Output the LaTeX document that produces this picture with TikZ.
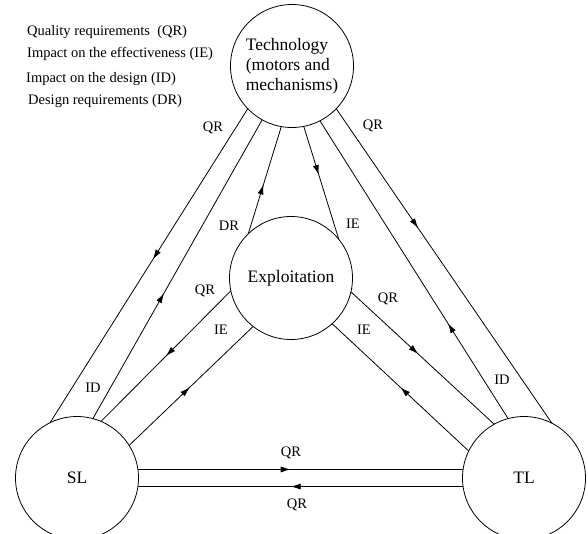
\documentclass[tikz,border=0pt]{standalone}
\usepackage{fontspec}
\setmainfont{Liberation Serif}
\usetikzlibrary{arrows.meta, decorations.markings}

\begin{document}
\begin{tikzpicture}[x=1pt, y=-1pt,
    block/.style={draw, circle, line width=0.8pt, minimum size=123pt, inner sep=0pt, outer sep=0pt,
      font=\fontsize{17.5}{20}\selectfont},
    link/.style={line width=0.8pt},
    lbl/.style={inner sep=0pt, font=\fontsize{14.5}{17}\selectfont},
    arrowat/.style={postaction={decorate},
      decoration={markings, mark=at position #1 with {\arrow{Latex[length=10pt,width=6pt]}}}}]
  \useasboundingbox (0,0) rectangle (588,533);

  % legend
  \node[lbl, anchor=west] (leg1) at (27,32) {Quality requirements~ (QR)};
  \node[lbl, anchor=west] (leg2) at (27,54) {Impact on the effectiveness (IE)};
  \node[lbl, anchor=west] (leg3) at (26,79) {Impact on the design (ID)};
  \node[lbl, anchor=west] (leg4) at (28,101) {Design requirements (DR)};

  % circles
  \node[block, align=left] (tech) at (292,66) {Technology\\(motors and\\mechanisms)};
  \node[block] (expl) at (291,278) {Exploitation};
  \node[block] (sl) at (77,478) {SL};
  \node[block] (tl) at (524,478) {TL};

  % links
  \draw[link, arrowat=0.48] (tech.224) -- (sl.116);
  \draw[link, arrowat=0.42] (sl.75) -- (tech.241);
  \draw[link, arrowat=0.46] (expl.134) -- (tech.260);
  \draw[link, arrowat=0.43] (tech.281) -- (expl.39);
  \draw[link, arrowat=0.32] (tl.105) -- (tech.297);
  \draw[link, arrowat=0.38] (tech.316) -- (tl.63);
  \draw[link, arrowat=0.5] (expl.192) -- (sl.67);
  \draw[link, arrowat=0.49] (sl.32) -- (expl.232);
  \draw[link, arrowat=0.47] (expl.347) -- (tl.119);
  \draw[link, arrowat=0.5] (tl.154) -- (expl.312);
  \draw[link, arrowat=0.47] (sl.8) -- (tl.172);
  \draw[link, arrowat=0.53] (tl.188) -- (sl.352);

  % labels
  \node[lbl] (qr1) at (213,128) {QR};
  \node[lbl] (dr1) at (229,226) {DR};
  \node[lbl] (qr2) at (205,291) {QR};
  \node[lbl] (ie1) at (221,330) {IE};
  \node[lbl] (id1) at (93,388) {ID};
  \node[lbl] (qr3) at (373,126) {QR};
  \node[lbl] (ie2) at (353,224) {IE};
  \node[lbl] (qr4) at (388,299) {QR};
  \node[lbl] (ie3) at (364,330) {IE};
  \node[lbl] (id2) at (502,380) {ID};
  \node[lbl] (qr5) at (291,453) {QR};
  \node[lbl] (qr6) at (297,505) {QR};
\end{tikzpicture}
\end{document}
